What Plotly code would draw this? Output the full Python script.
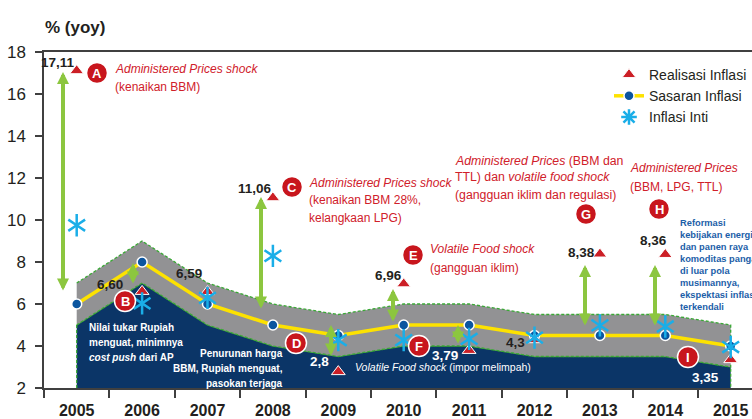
import plotly.graph_objects as go

# ---------------- data ----------------
years = [2005, 2006, 2007, 2008, 2009, 2010, 2011, 2012, 2013, 2014, 2015]
sasaran = [6.0, 8.0, 6.0, 5.0, 4.5, 5.0, 5.0, 4.5, 4.5, 4.5, 4.0]
realisasi = [17.11, 6.60, 6.59, 11.06, 2.78, 6.96, 3.79, 4.30, 8.38, 8.36, 3.35]
inti = [9.75, 6.03, 6.29, 8.29, 4.28, 4.28, 4.34, 4.40, 4.98, 4.93, 3.95]
realisasi_labels = ["17,11", "6,60", "6,59", "11,06", "2,8", "6,96", "3,79", "4,3", "8,38", "8,36", "3,35"]
band_half_width = 1.0
y_ticks = [2, 4, 6, 8, 10, 12, 14, 16, 18]

# ---------------- helpers (pixel -> data, for layout decorations only) ----------------
X0PX, XSTEP, Y0PX, YSTEP = 76.7, 65.4, 388.0, 21.0
def px_x(p):
    return 2005 + (p - X0PX) / XSTEP
def px_y(p):
    return 2 + (Y0PX - p) / YSTEP

FONT = "Liberation Sans, Arial, sans-serif"
RED = "#d0202a"
NAVY = "#0b3567"
GRAY = "#929294"
GREEN_DASH = "#3aa935"
ARROW_GREEN = "#8cc63f"
YELLOW = "#fde200"
DOT = "#0b559f"
STAR = "#1aaee8"
DARK = "#231f20"

upper = [s + band_half_width for s in sasaran]
lower = [s - band_half_width for s in sasaran]

fig = go.Figure()

# navy area below target range
fig.add_trace(go.Scatter(
    x=[years[0]] + years + [years[-1]],
    y=[2] + lower + [2],
    fill="toself", fillcolor=NAVY, mode="lines",
    line=dict(color=GREEN_DASH, width=1.3, dash="3px,2px"),
    hoverinfo="skip", showlegend=False))

# gray target band
fig.add_trace(go.Scatter(
    x=years + years[::-1],
    y=upper + lower[::-1],
    fill="toself", fillcolor=GRAY, mode="lines",
    line=dict(color=GREEN_DASH, width=1.3, dash="3px,2px"),
    hoverinfo="skip", showlegend=False))

# target line
fig.add_trace(go.Scatter(
    x=years, y=sasaran, mode="lines+markers", name="Sasaran Inflasi",
    line=dict(color=YELLOW, width=3.5),
    marker=dict(symbol="circle", size=10, color=DOT, line=dict(color="white", width=1.5)),
    legendrank=2, legendgroup="b"))

# realised inflation
fig.add_trace(go.Scatter(
    x=years, y=realisasi, mode="markers", name="Realisasi Inflasi",
    marker=dict(symbol="triangle-up", size=12, color="#cc1f26", line=dict(color="white", width=1)),
    legendrank=1, legendgroup="a"))

# core inflation (6-arm star = two overlaid Y symbols)
for sym in ["y-up-open", "y-down-open"]:
    fig.add_trace(go.Scatter(
        x=years, y=inti, mode="markers", showlegend=False, name="Inflasi Inti",
        legendgroup="c",
        marker=dict(symbol=sym, size=14, color=STAR, line=dict(color=STAR, width=2.5))))
fig.add_trace(go.Scatter(
    x=[None], y=[None], mode="markers", name="Inflasi Inti", legendgroup="c",
    marker=dict(symbol="asterisk-open", size=13, color=STAR, line=dict(color=STAR, width=2.5)),
    legendrank=3))

annotations = []
shapes = []

def add_lines(lines, x_px, y_list, size, color, anchor="left", weight="normal"):
    for line, ypx in zip(lines, y_list):
        annotations.append(dict(text=line, x=px_x(x_px), y=px_y(ypx), showarrow=False,
                                xanchor=anchor, yanchor="middle", align=anchor,
                                font=dict(family=FONT, size=size, color=color, weight=weight)))

# title
annotations.append(dict(text="<b>% (yoy)</b>", xref="paper", yref="paper",
                        x=-0.002, y=(388 - 27) / 336, xanchor="left", yanchor="middle",
                        showarrow=False, font=dict(family=FONT, size=17, color=DARK)))

# realised-value labels (position px, colour)
label_pos = [(58, 62, DARK), (110, 284, DARK), (189, 273, DARK), (255, 188, DARK),
             (319, 361, "white"), (388, 275, DARK), (445, 355, "white"), (515, 342, DARK),
             (581, 252, DARK), (653, 240, DARK), (705, 377, "white")]
for txt, (px, py, col) in zip(realisasi_labels, label_pos):
    annotations.append(dict(text="<b>%s</b>" % txt, x=px_x(px), y=px_y(py), showarrow=False,
                            xanchor="center", yanchor="middle",
                            font=dict(family=FONT, size=13.5, color=col)))

# green arrows (x px, top px, bottom px)
arrows = [(63, 72, 292), (133, 263, 285), (261, 197, 310), (331, 325, 357),
          (393, 289, 323), (458, 325, 345), (585, 265, 327), (655, 265, 327)]
for ax_, top, bot in arrows:
    annotations.append(dict(text="", x=px_x(ax_), y=px_y(top), ax=px_x(ax_), ay=px_y(bot),
                            axref="x", ayref="y", showarrow=True, arrowside="end+start",
                            arrowhead=2, startarrowhead=2, arrowsize=0.6, startarrowsize=0.6,
                            arrowwidth=4, arrowcolor=ARROW_GREEN, standoff=0, startstandoff=0))

# letter badges
letters = [("A", 97, 73), ("B", 125, 301), ("C", 292, 187), ("D", 296, 343), ("E", 413, 255),
           ("F", 419, 346), ("G", 586, 214), ("H", 659, 209), ("I", 688, 357)]
for letter, px, py in letters:
    shapes.append(dict(type="circle", xref="x", yref="y", xsizemode="pixel", ysizemode="pixel",
                       xanchor=px_x(px), yanchor=px_y(py), x0=-10.5, x1=10.5, y0=-10.5, y1=10.5,
                       fillcolor="#c8161d", line=dict(color="white", width=1.5), layer="above"))
    annotations.append(dict(text="<b>%s</b>" % letter, x=px_x(px), y=px_y(py), showarrow=False,
                            xanchor="center", yanchor="middle",
                            font=dict(family=FONT, size=13, color="white")))

# red explanatory texts
add_lines(["<i>Administered Prices shock</i>", "(kenaikan BBM)"], 113, [69, 87], 12, RED)
add_lines(["<i>Administered Prices shock</i>", "(kenaikan BBM 28%,", "kelangkaan LPG)"],
          307, [183, 200, 218], 12, RED)
add_lines(["<i>Volatile Food shock</i>", "(gangguan iklim)"], 428, [249, 268], 12, RED)
add_lines(["<i>Administered Prices</i> (BBM dan", "TTL) dan <i>volatile food shock</i>",
           "(gangguan iklim dan regulasi)"], 453, [161, 177, 195], 12.3, RED)
add_lines(["<i>Administered Prices</i>", "(BBM, LPG, TTL)"], 628, [168, 187], 12, RED)

# blue text
add_lines(["Reformasi", "kebijakan energi", "dan panen raya", "komoditas pangan", "di luar pola",
           "musimannya,", "ekspektasi inflasi", "terkendali"], 678,
          [223 + 12 * k for k in range(8)], 9.3, "#1b5ea8", weight="bold")

# white texts on navy
add_lines(["Nilai tukar Rupiah", "menguat, minimnya", "<i>cost push</i> dari AP"], 87,
          [327, 342, 357], 10, "white", weight="bold")
add_lines(["Penurunan harga", "BBM, Rupiah menguat,", "pasokan terjaga"], 285,
          [353, 368, 383], 10, "white", anchor="right", weight="bold")
add_lines(["<i>Volatile Food shock</i> (impor melimpah)"], 353, [367], 10.5, "white")

fig.update_layout(
    width=752, height=419,
    margin=dict(l=44, r=0, t=52, b=31),
    plot_bgcolor="white", paper_bgcolor="white",
    font=dict(family=FONT, color=DARK),
    showlegend=True,
    legend=dict(x=(609 - 44) / 708, y=(388 - 59) / 336, xanchor="left", yanchor="top",
                bgcolor="rgba(0,0,0,0)", font=dict(family=FONT, size=14, color=DARK),
                traceorder="grouped", tracegroupgap=0, itemwidth=30),
    annotations=annotations,
    shapes=shapes,
    xaxis=dict(range=[2004.5, px_x(752)], tickmode="array", tickvals=years,
               ticktext=[str(y) for y in years], ticks="outside", ticklen=7,
               tickcolor="rgba(0,0,0,0)", showgrid=False, zeroline=False, automargin=False,
               showline=True, linecolor="#404040", linewidth=1.5, mirror=True,
               tickfont=dict(family=FONT, size=16, color=DARK, weight="bold"),
               minor=dict(tickmode="linear", tick0=0.5, dtick=1, ticks="outside", ticklen=8,
                          tickcolor="#404040", tickwidth=1.5, showgrid=False)),
    yaxis=dict(range=[2, 18], tickmode="array", tickvals=y_ticks, ticks="outside", ticklen=7,
               tickcolor="#404040", tickwidth=1.5, showgrid=False, zeroline=False, automargin=False,
               showline=True, linecolor="#404040", linewidth=1.5, ticklabelstandoff=6,
               tickfont=dict(family=FONT, size=17, color=DARK)),
)

# remove the page's default body margin so the 752x419 figure fills the window exactly
fig.write_html("out.html", config={"displayModeBar": False},
               post_script="document.body.style.margin='0';document.body.style.overflow='hidden';")
